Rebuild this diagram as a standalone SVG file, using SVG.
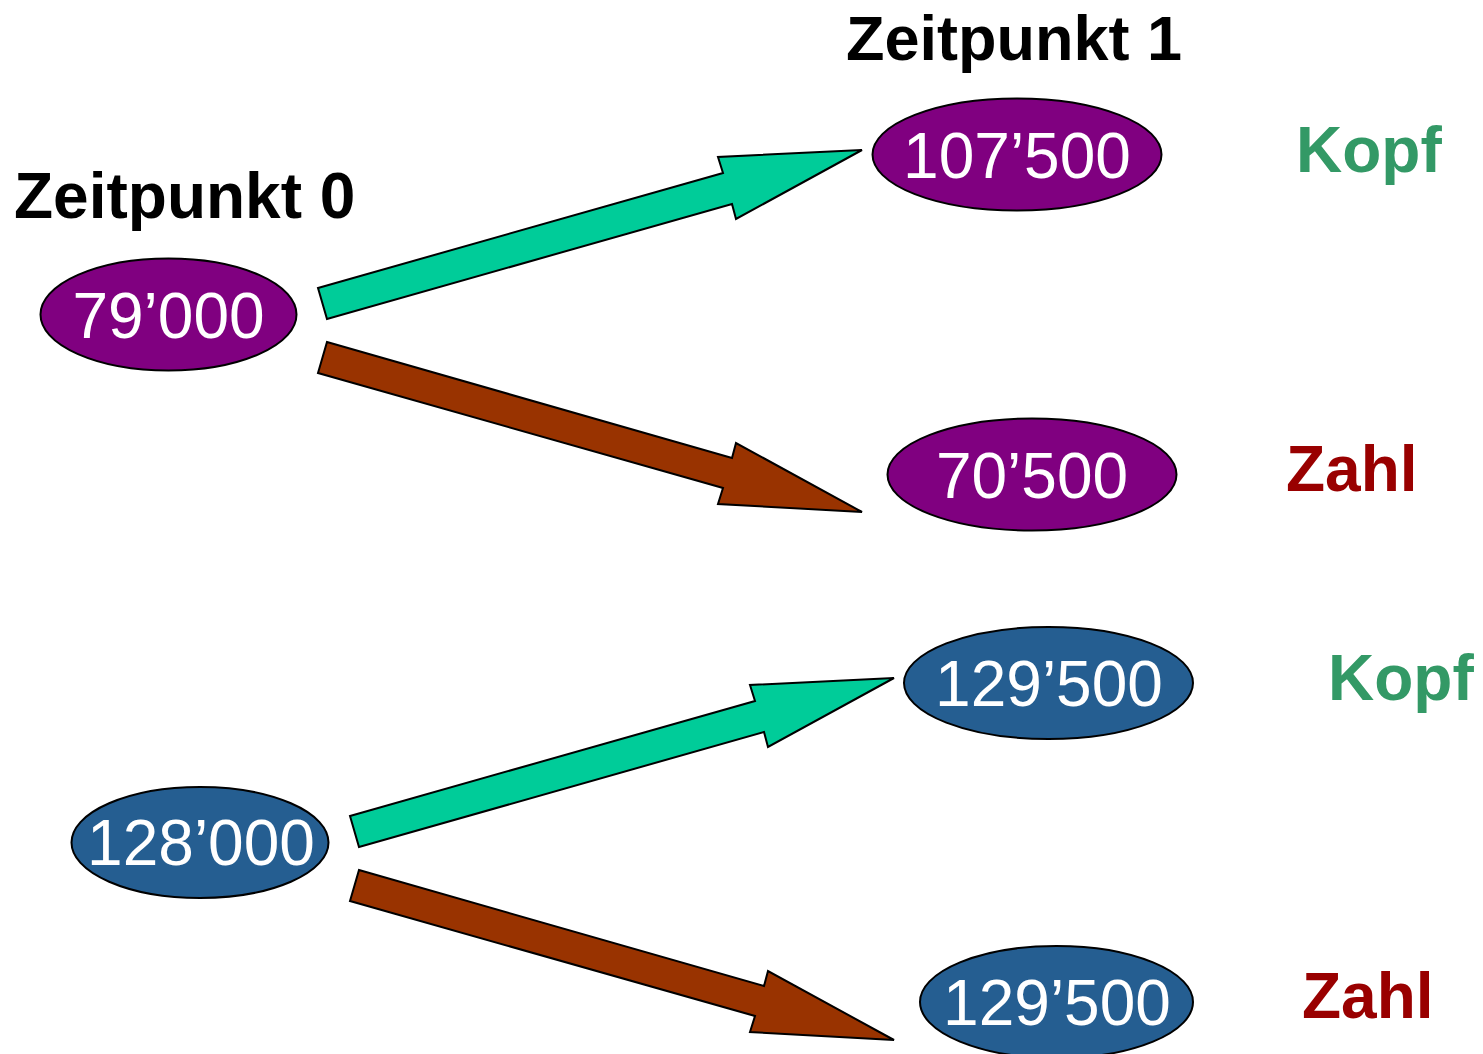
<svg xmlns="http://www.w3.org/2000/svg" width="1483" height="1054" viewBox="0 0 1483 1054">
<style>
.bg{fill:#ffffff}
.node{stroke:#000000;stroke-width:2}
.purple{fill:#800080}
.blue{fill:#255E91}
.val{font-family:"Liberation Sans",Arial,sans-serif;font-size:64px;fill:#ffffff;text-anchor:middle}
.title{font-family:"Liberation Sans",Arial,sans-serif;font-size:64px;font-weight:bold;fill:#000000}
.kopf{font-family:"Liberation Sans",Arial,sans-serif;font-size:64px;font-weight:bold;fill:#339966}
.zahl{font-family:"Liberation Sans",Arial,sans-serif;font-size:64px;font-weight:bold;fill:#990000}
.up{fill:#00CC99;stroke:#000000;stroke-width:2;stroke-linejoin:miter}
.down{fill:#993300;stroke:#000000;stroke-width:2;stroke-linejoin:miter}
</style>
<rect class="bg" x="0" y="0" width="1483" height="1054"/>
<g id="titles">
<text class="title" x="14" y="218">Zeitpunkt 0</text>
<text class="title" x="846" y="60" style="font-size:63px">Zeitpunkt 1</text>
</g>
<g id="connectors">
<polygon class="up" points="318,288 723,173 718,157 862,150 736,219 732,204 327,319"/>
<polygon class="down" points="327,342 732,458 736,443 862,512 718,504 723,488 318,373"/>
<polygon class="up" points="350,816 755,701 750,685 894,678 768,747 764,732 359,847"/>
<polygon class="down" points="359,870 764,986 768,971 894,1040 750,1032 755,1016 350,901"/>
</g>
<g id="node-79000">
<ellipse class="node purple" cx="168.5" cy="314.5" rx="128" ry="56"/>
<text class="val" x="168.5" y="338">79’000</text>
</g>
<g id="node-107500">
<ellipse class="node purple" cx="1017" cy="154.5" rx="144.5" ry="56"/>
<text class="val" x="1017" y="178">107’500</text>
</g>
<g id="node-70500">
<ellipse class="node purple" cx="1032" cy="474.5" rx="144.5" ry="56"/>
<text class="val" x="1032" y="498">70’500</text>
</g>
<g id="node-128000">
<ellipse class="node blue" cx="200" cy="842.5" rx="128.5" ry="55.5"/>
<text class="val" x="201" y="865">128’000</text>
</g>
<g id="node-129500-top">
<ellipse class="node blue" cx="1048.5" cy="683" rx="144.5" ry="56"/>
<text class="val" x="1049" y="706">129’500</text>
</g>
<g id="node-129500-bottom">
<ellipse class="node blue" cx="1056.5" cy="1002" rx="136.5" ry="56"/>
<text class="val" x="1057" y="1025">129’500</text>
</g>
<g id="labels">
<text class="kopf" x="1296" y="172">Kopf</text>
<text class="zahl" x="1286" y="491">Zahl</text>
<text class="kopf" x="1328" y="700">Kopf</text>
<text class="zahl" x="1302" y="1018">Zahl</text>
</g>
</svg>
